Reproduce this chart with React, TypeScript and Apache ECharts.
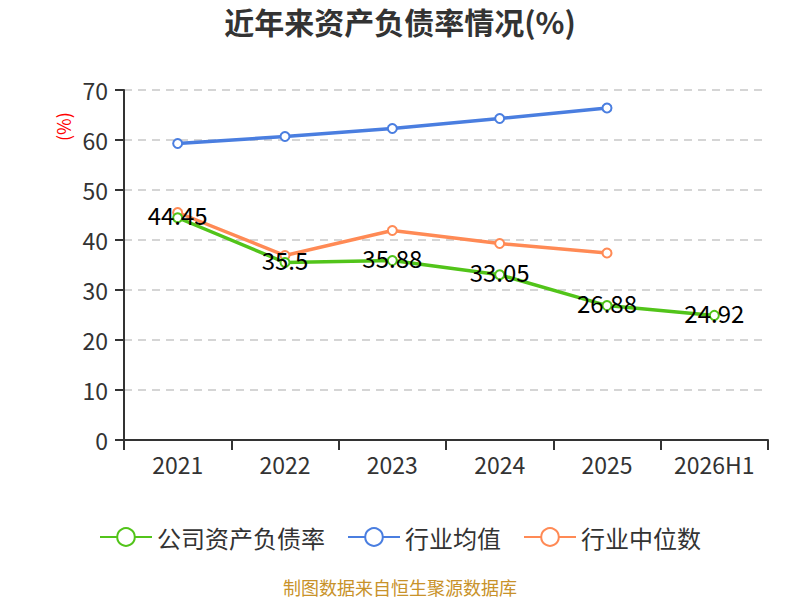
import React, { useEffect, useRef } from "react";
import * as echarts from "echarts";

const categories = ["2021", "2022", "2023", "2024", "2025", "2026H1"];
const companyRatio = [44.45, 35.5, 35.88, 33.05, 26.88, 24.92];
const industryAvg = [59.3, 60.7, 62.3, 64.3, 66.4];
const industryMedian = [45.5, 36.9, 41.9, 39.3, 37.4];
const seriesNames = ["公司资产负债率", "行业均值", "行业中位数"];

const FONT = "'Noto Sans CJK SC', 'Noto Sans', sans-serif";

export default function App() {
  const ref = useRef<HTMLDivElement>(null);
  useEffect(() => {
    if (!ref.current) return;
    const chart = echarts.init(ref.current, undefined, { renderer: "svg" });
    chart.setOption({
      animation: false,
      textStyle: { fontFamily: FONT },
      title: {
        text: "近年来资产负债率情况(%)",
        left: "center",
        top: 1,
        textStyle: { fontSize: 30, fontWeight: "bold", color: "#333", fontFamily: FONT },
      },
      grid: { left: 124, right: 32, top: 90, bottom: 160 },
      legend: {
        top: 520,
        left: "center",
        itemWidth: 52,
        itemHeight: 22,
        itemGap: 22,
        textStyle: { fontSize: 24, color: "#333", fontFamily: FONT },
        data: seriesNames,
      },
      graphic: [
        {
          type: "text",
          x: 54,
          y: 141,
          rotation: Math.PI / 2,
          style: { text: "(%)", fill: "#ff0000", fontSize: 18, fontFamily: FONT },
        },
        {
          type: "text",
          left: "center",
          top: 578,
          style: { text: "制图数据来自恒生聚源数据库", fill: "#c8922a", fontSize: 18, fontFamily: FONT },
        },
      ],
      xAxis: {
        type: "category",
        data: categories,
        boundaryGap: true,
        axisLine: { lineStyle: { color: "#333", width: 2 } },
        axisTick: { show: true, length: 10, lineStyle: { color: "#333", width: 2 } },
        axisLabel: { fontSize: 23, color: "#333", margin: 12, fontFamily: FONT },
      },
      yAxis: {
        type: "value",
        min: 0,
        max: 70,
        interval: 10,
        axisLine: { show: true, lineStyle: { color: "#333", width: 2 } },
        axisTick: { show: true, length: 9, lineStyle: { color: "#333", width: 2 } },
        axisLabel: { fontSize: 23, color: "#333", margin: 16, fontFamily: FONT },
        splitLine: { lineStyle: { color: "#c8c8c8", type: [8, 6], width: 1.5 } },
      },
      series: [
        {
          name: seriesNames[0],
          type: "line",
          data: companyRatio,
          symbol: "emptyCircle",
          symbolSize: 9,
          itemStyle: { color: "#52c41a" },
          lineStyle: { width: 3.5, color: "#52c41a" },
          label: {
            show: true,
            position: "inside",
            offset: [0, -3],
            fontSize: 24,
            color: "#000",
            fontFamily: FONT,
          },
          z: 3,
        },
        {
          name: seriesNames[1],
          type: "line",
          data: industryAvg,
          symbol: "emptyCircle",
          symbolSize: 9,
          itemStyle: { color: "#4a7ee0" },
          lineStyle: { width: 3.5, color: "#4a7ee0" },
        },
        {
          name: seriesNames[2],
          type: "line",
          data: industryMedian,
          symbol: "emptyCircle",
          symbolSize: 9,
          itemStyle: { color: "#ff8a55" },
          lineStyle: { width: 3.5, color: "#ff8a55" },
          z: 2,
        },
      ],
    });
    return () => chart.dispose();
  }, []);
  return <div ref={ref} style={{ width: 800, height: 600, position: "absolute", left: 0, top: 0 }} />;
}
